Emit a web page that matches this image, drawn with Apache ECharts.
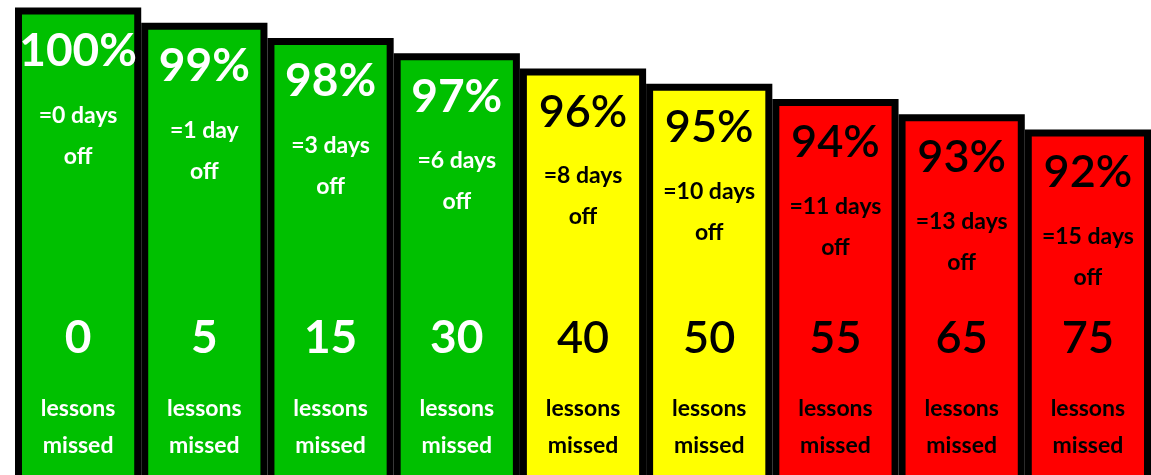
<!DOCTYPE html>
<html>
<head>
<meta charset="utf-8">
<script src="https://cdn.jsdelivr.net/npm/echarts@6/dist/echarts.min.js"></script>
<style>
  html, body { margin: 0; padding: 0; background: #ffffff; }
  #chart { width: 1151px; height: 475px; }
</style>
</head>
<body>
<div id="chart"></div>
<script>
// ---- data ----
const categories = ['100%', '99%', '98%', '97%', '96%', '95%', '94%', '93%', '92%'];
const attendance = [100, 99, 98, 97, 96, 95, 94, 93, 92];
const daysOff = [0, 1, 3, 6, 8, 10, 11, 13, 15];
const lessonsMissed = [0, 5, 15, 30, 40, 50, 55, 65, 75];

// ---- axis range and styling rules ----
const Y_MIN = 69.3, Y_MAX = 100.5;
const GREEN = '#00C000', YELLOW = '#FFFF00', RED = '#FF0000';
function band(v) { return v >= 97 ? 'g' : (v >= 95 ? 'y' : 'r'); }
function fillOf(v) { const b = band(v); return b === 'g' ? GREEN : (b === 'y' ? YELLOW : RED); }
function textOf(v) { return band(v) === 'g' ? '#ffffff' : '#000000'; }

const FONT = 'Lato';

const barData = attendance.map(v => ({
  value: v,
  itemStyle: { color: fillOf(v) },
  label: { color: textOf(v) }
}));
// anchors on the baseline of each bar, carrying the "lessons missed" labels
const baseData = attendance.map((v, i) => ({
  value: [categories[i], Y_MIN],
  label: { color: textOf(v) }
}));

const chart = echarts.init(document.getElementById('chart'), null, { renderer: 'canvas' });
chart.setOption({
  backgroundColor: '#ffffff',
  animation: false,
  grid: { left: 15, right: -7, top: 0, bottom: -1, containLabel: false },
  xAxis: { type: 'category', data: categories, show: false },
  yAxis: { type: 'value', min: Y_MIN, max: Y_MAX, show: false },
  series: [
    {
      type: 'bar',
      data: barData,
      barCategoryGap: '0%',
      barWidth: '100%',
      clip: false,
      itemStyle: { borderColor: '#000000', borderWidth: 7 },
      label: {
        show: true,
        position: 'insideTop',
        distance: 5,
        fontFamily: FONT,
        formatter: p => {
          const i = p.dataIndex;
          const big = band(attendance[i]) === 'g' ? 'pw' : 'pb';
          const d = daysOff[i];
          return '{' + big + '|' + attendance[i] + '%}\n{d1|=' + d + ' ' + (d === 1 ? 'day' : 'days') + '}\n{d2|off}';
        },
        rich: {
          pw: { fontFamily: FONT, fontSize: 46, fontWeight: 'bold', lineHeight: 77 },
          pb: { fontFamily: FONT, fontSize: 45, fontWeight: 600, lineHeight: 77 },
          d1: { fontFamily: FONT, fontSize: 23, fontWeight: 'bold', lineHeight: 51 },
          d2: { fontFamily: FONT, fontSize: 23, fontWeight: 'bold', lineHeight: 31 }
        }
      }
    },
    {
      type: 'scatter',
      data: baseData,
      symbolSize: 1,
      clip: false,
      silent: true,
      itemStyle: { color: 'rgba(0,0,0,0)', opacity: 1 },
      z: 5,
      label: {
        show: true,
        position: 'top',
        distance: 11,
        opacity: 1,
        fontFamily: FONT,
        formatter: p => {
          const i = p.dataIndex;
          const big = band(attendance[i]) === 'g' ? 'nw' : 'nb';
          return '{' + big + '|' + lessonsMissed[i] + '}\n{l1|lessons}\n{l2|missed}';
        },
        rich: {
          nw: { fontFamily: FONT, fontSize: 46, fontWeight: 'bold', lineHeight: 102 },
          nb: { fontFamily: FONT, fontSize: 45, fontWeight: 600, lineHeight: 102 },
          l1: { fontFamily: FONT, fontSize: 23, fontWeight: 'bold', lineHeight: 38 },
          l2: { fontFamily: FONT, fontSize: 23, fontWeight: 'bold', lineHeight: 36 }
        }
      }
    }
  ]
});
</script>
</body>
</html>
